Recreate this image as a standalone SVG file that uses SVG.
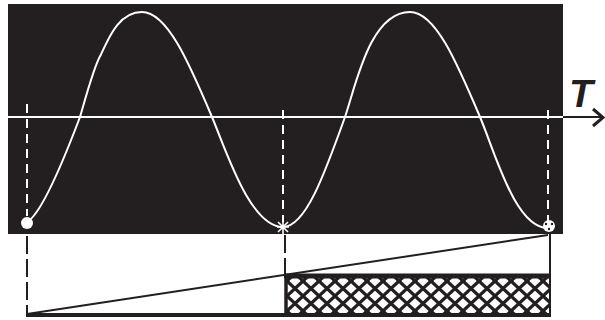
<svg xmlns="http://www.w3.org/2000/svg" width="605" height="320" viewBox="0 0 605 320">
<style>
.wave{fill:none;stroke:#fff;stroke-width:2}
.wdash{fill:none;stroke:#fff;stroke-width:2;stroke-dasharray:9 6}
.bdash{fill:none;stroke:#231f20;stroke-width:2;stroke-dasharray:18 5}
.blk{fill:none;stroke:#231f20}
</style>
<defs>
<pattern id="hatch" width="16" height="15" patternUnits="userSpaceOnUse" x="287" y="281">
<rect width="16" height="15" fill="#fff"/>
<path d="M0,0L16,15M16,0L0,15M-4,3.75L4,-3.75M12,18.75L20,11.25M-4,11.25L4,18.75M12,-3.75L20,3.75" stroke="#231f20" stroke-width="3.2" fill="none"/>
</pattern>
</defs>
<rect width="605" height="320" fill="#fff"/>
<g id="screen">
<rect x="8" y="4" width="555" height="230" fill="#231f20"/>
</g>
<g id="axis">
<line x1="8" y1="117" x2="563" y2="117" stroke="#fff" stroke-width="2"/>
<line x1="563" y1="117" x2="602" y2="117" stroke="#231f20" stroke-width="2"/>
<path d="M593,109L603,117.5L593,126" class="blk" stroke-width="3"/>
<text x="569" y="107" font-family="Liberation Sans, Arial, sans-serif" font-size="39" font-weight="bold" font-style="italic" fill="#231f20">T</text>
</g>
<g id="wave">
<path class="wave" d="M27,222C42,214 66,154 80,117C85,100 94,66 100.7,55C108,40 118,12 142,12C167,12 188.6,61.9 212,117C226,150 250,227 283,227C305.4,227 324.3,174.8 345,117C356,85 370,12 410,12C435.2,12 456.6,61.9 480,117C495,152 515,228 548,228"/>
<circle cx="27" cy="223" r="6" fill="#fff"/>
<path d="M278,222L288,232M288,222L278,232M283,220L283,234M277,227L289,227" stroke="#fff" stroke-width="1.6"/>
<circle cx="549" cy="226" r="6" fill="#fff"/>
<g fill="#231f20"><circle cx="546" cy="224" r="1.2"/><circle cx="552" cy="224" r="1.2"/><circle cx="549" cy="229" r="1.2"/></g>
</g>
<g id="connectors">
<line class="wdash" x1="27" y1="104" x2="27" y2="216"/>
<line class="wdash" x1="283" y1="110" x2="283" y2="222"/>
<line class="wdash" x1="548" y1="110" x2="548" y2="222"/>
<line class="bdash" x1="27" y1="236" x2="27" y2="313"/>
<line class="bdash" x1="285" y1="235" x2="285" y2="275"/>
<line class="blk" x1="550" y1="234" x2="550" y2="317" stroke-width="2"/>
</g>
<g id="ramp">
<line class="blk" x1="27" y1="314" x2="548" y2="235" stroke-width="2"/>
</g>
<g id="bars">
<rect x="286" y="277" width="263" height="38" fill="url(#hatch)"/>
<line class="blk" x1="284" y1="276" x2="550" y2="276" stroke-width="5"/>
<line class="blk" x1="286" y1="274" x2="286" y2="317" stroke-width="3.5"/>
<line class="blk" x1="26" y1="315" x2="550" y2="315" stroke-width="4"/>
</g>
</svg>
